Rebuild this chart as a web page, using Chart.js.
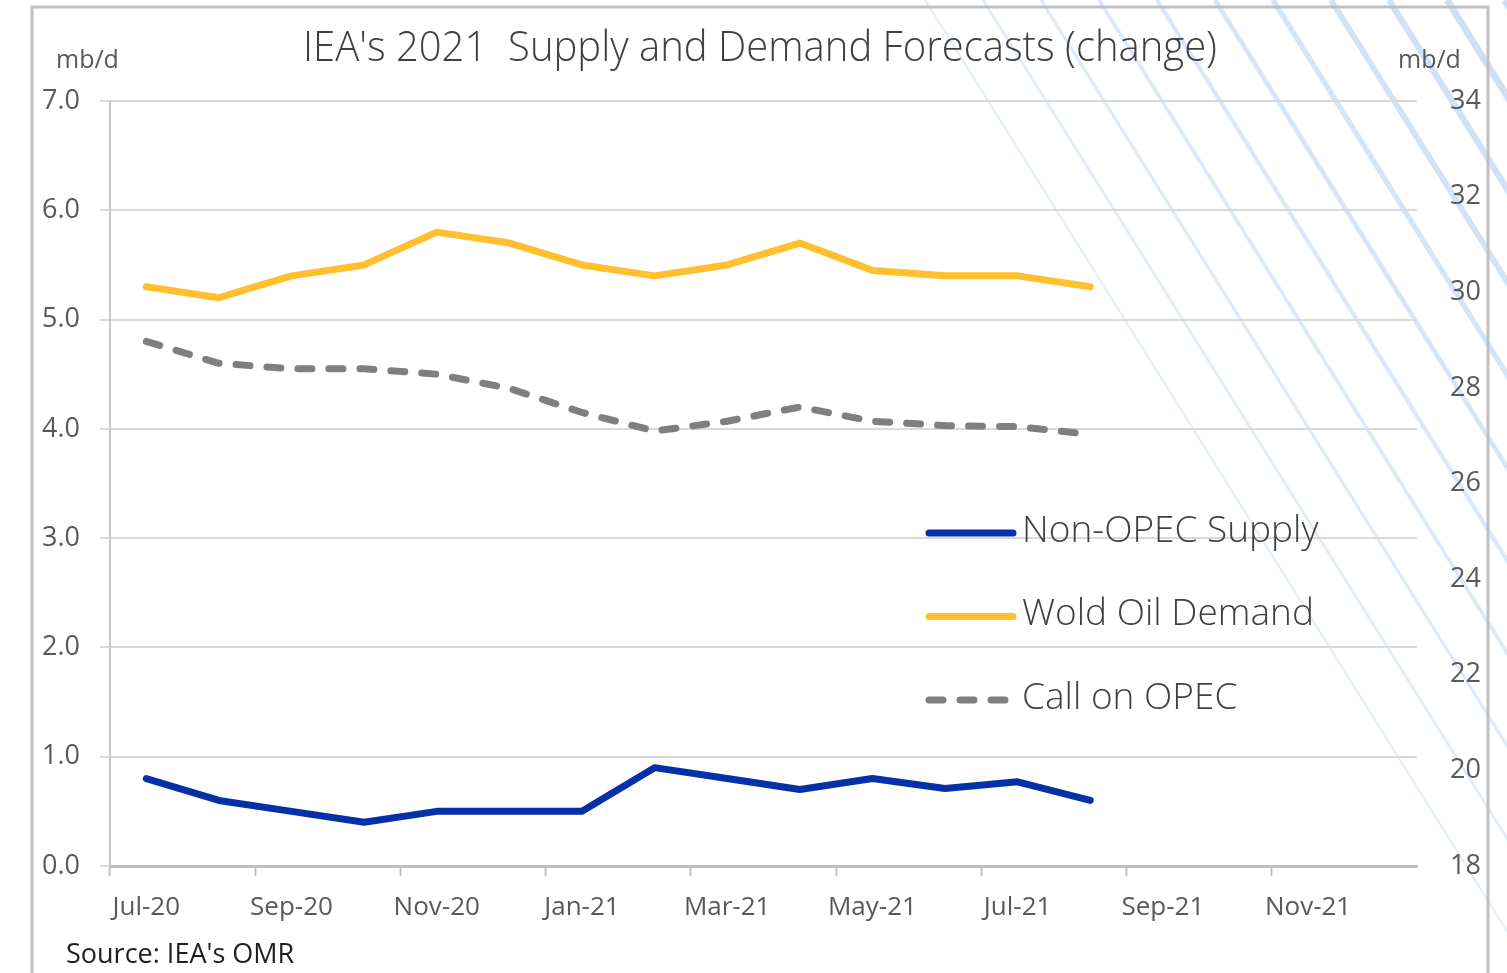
<!DOCTYPE html>
<html>
<head>
<meta charset="utf-8">
<title>IEA's 2021 Supply and Demand Forecasts</title>
<script src="https://cdn.jsdelivr.net/npm/chart.js@4.4.1/dist/chart.umd.min.js"></script>
<style>
  html, body { margin: 0; padding: 0; background: #fff; }
  #wrap { width: 1507px; height: 973px; }
</style>
</head>
<body>
<div id="wrap"><canvas id="chart" width="1507" height="973"></canvas></div>
<script>
const months = ['Jul-20', 'Aug-20', 'Sep-20', 'Oct-20', 'Nov-20', 'Dec-20', 'Jan-21', 'Feb-21', 'Mar-21',
  'Apr-21', 'May-21', 'Jun-21', 'Jul-21', 'Aug-21', 'Sep-21', 'Oct-21', 'Nov-21', 'Dec-21'];

const nonOpecSupply = [0.8, 0.6, 0.5, 0.4, 0.5, 0.5, 0.5, 0.9, 0.8, 0.7, 0.8, 0.71, 0.77, 0.6];
const worldDemand = [5.3, 5.2, 5.4, 5.5, 5.8, 5.7, 5.5, 5.4, 5.5, 5.7, 5.45, 5.4, 5.4, 5.3];
const callOnOpec = [4.8, 4.6, 4.55, 4.55, 4.5, 4.37, 4.15, 3.98, 4.07, 4.2, 4.07, 4.03, 4.02, 3.95];

const leftTicks = [0, 1, 2, 3, 4, 5, 6, 7];
const rightTicks = [18, 20, 22, 24, 26, 28, 30, 32, 34];

const FONT = '"Open Sans", "Noto Sans", sans-serif';

// background stripes, frame, title and notes
const decor = {
  id: 'decor',
  beforeDraw(chart) {
    const ctx = chart.ctx;
    ctx.save();
    for (let i = 0; i < 11; i++) {
      const x0 = 925 + i * 58;
      ctx.strokeStyle = 'rgba(205,223,245,' + (0.6 + i * 0.04) + ')';
      ctx.lineWidth = 2 + i * 0.55;
      ctx.beginPath();
      ctx.moveTo(x0, 0);
      ctx.lineTo(x0 + 1000 / 1.6, 1000);
      ctx.stroke();
    }
    ctx.restore();
  },
  afterDraw(chart) {
    const ctx = chart.ctx;
    ctx.save();
    // frame
    ctx.strokeStyle = '#c0c0c0';
    ctx.lineWidth = 3;
    ctx.beginPath();
    ctx.moveTo(32, 973);
    ctx.lineTo(32, 7);
    ctx.lineTo(1488, 7);
    ctx.lineTo(1488, 973);
    ctx.stroke();

    ctx.textBaseline = 'middle';
    ctx.fillStyle = '#404040';
    ctx.textAlign = 'center';
    ctx.font = '300 42px ' + FONT;
    ctx.fillText("IEA's 2021  Supply and Demand Forecasts (change)", 760, 49, 914);

    ctx.fillStyle = '#595959';
    ctx.font = '25px ' + FONT;
    ctx.textAlign = 'left';
    ctx.fillText('mb/d', 56, 61);
    ctx.fillText('mb/d', 1398, 61);

    ctx.fillStyle = '#1f1f1f';
    ctx.font = '27px ' + FONT;
    ctx.fillText("Source: IEA's OMR", 66, 955);

    // legend
    const rows = [0, 1, 2];
    rows.forEach((r, k) => {
      const ds = chart.data.datasets[r];
      const y = 533 + k * 83.5;
      ctx.strokeStyle = ds.borderColor;
      ctx.lineWidth = 7;
      ctx.lineCap = 'round';
      ctx.setLineDash(ds.borderDash || []);
      ctx.beginPath();
      ctx.moveTo(929, y);
      ctx.lineTo(1013, y);
      ctx.stroke();
      ctx.setLineDash([]);
      ctx.fillStyle = '#404040';
      ctx.font = '300 37px ' + FONT;
      ctx.fillText(ds.label, 1022, y - 2);
    });
    ctx.restore();
  }
};

new Chart(document.getElementById('chart'), {
  type: 'line',
  data: {
    labels: months,
    datasets: [
      {
        label: 'Non-OPEC Supply',
        data: nonOpecSupply,
        borderColor: '#0530a8',
        borderWidth: 7,
        pointRadius: 0,
        borderCapStyle: 'round',
        borderJoinStyle: 'round',
        yAxisID: 'y'
      },
      {
        label: 'Wold Oil Demand',
        data: worldDemand,
        borderColor: '#ffbf2e',
        borderWidth: 7,
        pointRadius: 0,
        borderCapStyle: 'round',
        borderJoinStyle: 'round',
        yAxisID: 'y'
      },
      {
        label: 'Call on OPEC',
        data: callOnOpec,
        borderColor: '#7f7f7f',
        borderWidth: 7,
        borderDash: [14, 17],
        pointRadius: 0,
        borderCapStyle: 'round',
        borderJoinStyle: 'round',
        yAxisID: 'y'
      }
    ]
  },
  options: {
    responsive: false,
    animation: false,
    devicePixelRatio: 1,
    layout: { padding: { top: 101, left: 0, right: 0, bottom: 0 } },
    plugins: {
      legend: { display: false },
      title: { display: false },
      tooltip: { enabled: false }
    },
    scales: {
      x: {
        type: 'category',
        offset: true,
        grid: {
          offset: true,
          drawOnChartArea: false,
          tickLength: 10,
          tickWidth: 2,
          tickColor: ctx => (ctx.index % 2 === 0 ? '#bfbfbf' : 'rgba(0,0,0,0)')
        },
        border: { color: '#bfbfbf', width: 3 },
        ticks: {
          autoSkip: false,
          maxRotation: 0,
          padding: 16,
          color: '#595959',
          font: { family: FONT, size: 26 },
          callback: (v, i) => (i % 2 === 0 ? months[i] : '')
        },
        afterFit: s => { s.height = 107; }
      },
      y: {
        position: 'left',
        min: leftTicks[0],
        max: leftTicks[leftTicks.length - 1],
        afterBuildTicks: s => { s.ticks = leftTicks.map(v => ({ value: v })); },
        grid: { color: '#d9d9d9', lineWidth: 2, tickLength: 10 },
        border: { color: '#c8c8c8', width: 2 },
        ticks: {
          padding: 20,
          color: '#595959',
          font: { family: FONT, size: 27 },
          callback: v => v.toFixed(1)
        },
        afterFit: s => { s.width = 110; }
      },
      y1: {
        position: 'right',
        min: rightTicks[0],
        max: rightTicks[rightTicks.length - 1],
        afterBuildTicks: s => { s.ticks = rightTicks.map(v => ({ value: v })); },
        grid: { drawOnChartArea: false, drawTicks: false },
        border: { display: false },
        ticks: {
          padding: 33,
          color: '#595959',
          font: { family: FONT, size: 27 }
        },
        afterFit: s => { s.width = 90; }
      }
    }
  },
  plugins: [decor]
});
</script>
</body>
</html>
